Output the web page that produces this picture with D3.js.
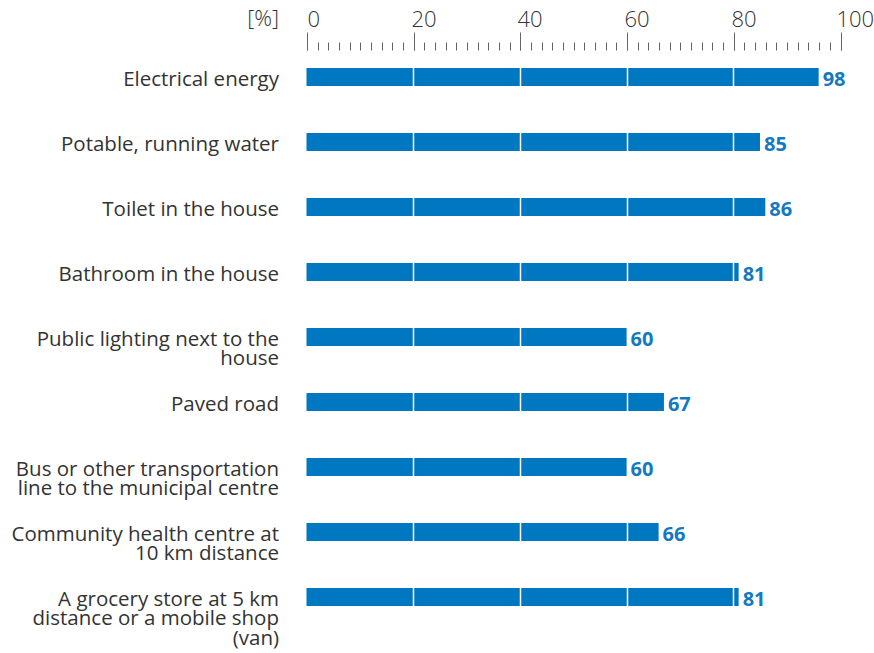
<!DOCTYPE html>
<html>
<head>
<meta charset="utf-8">
<script src="https://cdn.jsdelivr.net/npm/d3@7"></script>
<style>
  body { margin: 0; background: #fff; }
  svg text { font-family: "Open Sans", Lato, sans-serif; }
</style>
</head>
<body>
<svg class="chart"></svg>
<script>
// categories, top to bottom (lines split where the original breaks them)
var categories = [
  ["Electrical energy"],
  ["Potable, running water"],
  ["Toilet in the house"],
  ["Bathroom in the house"],
  ["Public lighting next to the", "house"],
  ["Paved road"],
  ["Bus or other transportation", "line to the municipal centre"],
  ["Community health centre at", "10 km distance"],
  ["A grocery store at 5 km", "distance or a mobile shop", "(van)"]
];
// printed values
var labels = [98, 85, 86, 81, 60, 67, 60, 66, 81];
// bar lengths as drawn (first bar is drawn shorter than its label)
var barLength = [96, 85, 86, 81, 60, 67, 60, 66, 81];
var majorTicks = [0, 20, 40, 60, 80, 100];
var gridBreaks = [20, 40, 60, 80];

var width = 874, height = 653;
var svg = d3.select(".chart")
    .attr("width", width)
    .attr("height", height);

var blue = "#0077c1";

var x = d3.scaleLinear()
    .domain([0, 100])
    .range([306.5, 840]);

var y = d3.scalePoint()
    .domain(d3.range(categories.length))
    .range([77, 597]);

var barH = 18;

// minor ticks every 2 %
svg.append("g")
    .attr("class", "minor")
    .attr("transform", "translate(0,50.5)")
    .call(d3.axisTop(x).tickValues(d3.range(0, 101, 2)).tickSize(8).tickFormat(""))
    .call(function(g){ g.select(".domain").remove(); });

// major ticks + labels
var axis = svg.append("g")
    .attr("class", "major")
    .attr("transform", "translate(0,50.5)")
    .call(d3.axisTop(x).tickValues(majorTicks).tickSize(18).tickPadding(6));
axis.select(".domain").remove();
axis.selectAll("text")
    .attr("text-anchor", "start")
    .attr("dx", function(d){ return d == 100 ? -5 : (d == 0 ? 0 : -3); })
    .style("font-size", "22px")
    .style("font-weight", 300)
    .attr("fill", "#333");
svg.selectAll(".tick line")
    .attr("stroke", "#666")
    .attr("stroke-width", 1);
svg.selectAll(".tick").each(function(){
  var t = d3.select(this).attr("transform").match(/translate\(([\d.]+)/);
  if(t) d3.select(this).attr("transform", "translate(" + (Math.round(+t[1]) + 0.5) + ",0)");
});

svg.append("text")
    .attr("x", 279)
    .attr("y", 26)
    .attr("text-anchor", "end")
    .attr("fill", "#333")
    .style("font-size", "22px")
    .style("font-weight", 300)
    .text("[%]");

// bars
svg.selectAll(".bar")
    .data(barLength)
    .enter().append("rect")
    .attr("class", "bar")
    .attr("x", x(0))
    .attr("y", function(d, i){ return y(i) - barH / 2; })
    .attr("width", function(d){ return x(d) - x(0); })
    .attr("height", barH)
    .attr("fill", blue);

// white breaks at 20/40/60/80
barLength.forEach(function(d, i){
  gridBreaks.forEach(function(t){
    if(t < d - 0.5)
      svg.append("line")
        .attr("x1", Math.round(x(t)) + 0.5)
        .attr("x2", Math.round(x(t)) + 0.5)
        .attr("y1", y(i) - barH / 2)
        .attr("y2", y(i) + barH / 2)
        .attr("stroke", "#fff")
        .attr("stroke-width", 1.5);
  });
});

// value labels
svg.selectAll(".val")
    .data(labels)
    .enter().append("text")
    .attr("class", "val")
    .attr("x", function(d, i){ return x(barLength[i]) + 4; })
    .attr("y", function(d, i){ return y(i) + 9; })
    .attr("fill", "#1479c0")
    .style("font-size", "20px")
    .style("font-weight", "bold")
    .text(function(d){ return d; });

// category labels
var cat = svg.selectAll(".cat")
    .data(categories)
    .enter().append("text")
    .attr("class", "cat")
    .attr("text-anchor", "end")
    .attr("fill", "#333")
    .style("font-size", "20.5px")
    .attr("y", function(d, i){ return y(i) + 8.5; });
cat.selectAll("tspan")
    .data(function(d){ return d; })
    .enter().append("tspan")
    .attr("x", 279)
    .attr("dy", function(d, j){ return j ? 19.5 : 0; })
    .text(function(d){ return d; });
</script>
</body>
</html>
